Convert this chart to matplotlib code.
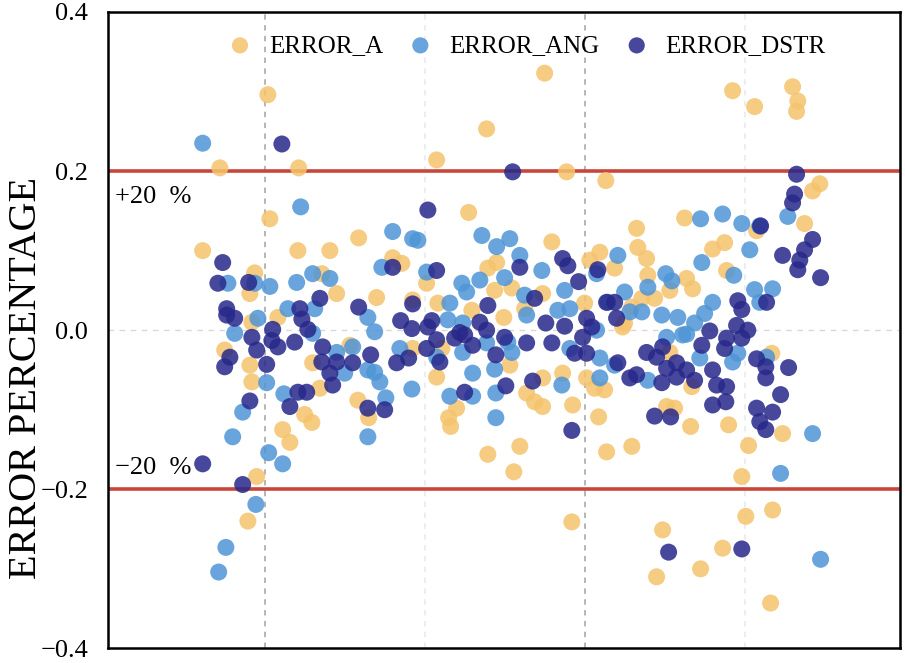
import matplotlib
matplotlib.use("Agg")
import matplotlib.pyplot as plt

# ERROR_A (orange)
a_x = [24.5, 28.8, 40.8, 48.5, 41.3, 48.3, 56.3, 63.5, 37.5, 36.3, 58.0, 54.3, 36.8, 43.3,
       30.0, 36.3, 36.8, 44.5, 46.3, 38.0, 35.8, 50.0, 51.8, 53.8, 52.0, 63.3, 61.3,
       110.0, 95.5, 83.0, 91.0, 72.0, 74.3, 80.5, 68.0, 77.0, 83.3, 98.0, 95.8, 101.8,
       97.5, 91.8, 99.8, 105.0, 83.0, 88.0, 86.0, 86.5, 95.8, 103.8, 102.3, 101.3, 105.5,
       107.5, 66.0, 84.3, 77.0, 115.5, 125.3, 145.0, 133.0, 111.8, 133.3, 135.5, 123.8,
       121.3, 127.5, 135.8, 141.3, 145.5, 109.5, 120.0, 134.3, 137.5, 131.8, 130.0,
       109.5, 114.5, 109.5, 117.0, 120.5, 122.5, 125.0, 123.5, 125.5, 131.8, 116.8,
       139.5, 138.0, 140.5, 142.5, 146.5, 141.3, 129.5, 157.0, 162.5, 172.0, 173.3,
       173.0, 178.8, 177.0, 175.0, 152.0, 155.0, 163.0, 155.5, 147.0, 166.8, 156.0,
       169.5, 161.0, 159.3, 167.0, 160.3, 154.5, 149.0, 166.5, 146.8]
a_y = [0.100, 0.204, 0.296, 0.204, 0.140, 0.100, 0.100, 0.116, 0.072, 0.046, 0.046, 0.071,
       0.010, 0.016, -0.025, -0.044, -0.065, -0.125, -0.141, -0.184, -0.240, -0.106,
       -0.116, -0.073, -0.041, -0.088, -0.019, 0.323, 0.253, 0.214, 0.148, 0.091, 0.084,
       0.059, 0.041, 0.038, 0.034, 0.085, 0.078, 0.053, 0.050, 0.025, 0.016, 0.027,
       -0.059, -0.098, -0.110, -0.121, -0.156, -0.146, -0.178, -0.044, -0.079, -0.090,
       -0.110, -0.023, -0.023, 0.199, 0.188, 0.141, 0.128, 0.111, 0.104, 0.090, 0.098,
       0.088, 0.078, 0.069, 0.050, 0.065, 0.046, 0.034, 0.040, 0.040, 0.029, 0.009,
       -0.060, -0.054, -0.096, -0.094, -0.060, -0.073, -0.075, -0.109, -0.153, -0.146,
       -0.241, -0.251, -0.310, -0.096, -0.098, -0.121, -0.028, 0.004, 0.301, 0.281,
       0.306, 0.288, 0.275, 0.184, 0.175, 0.134, 0.102, 0.110, 0.125, 0.075, 0.052,
       -0.029, -0.119, -0.130, -0.145, -0.184, -0.226, -0.234, -0.274, -0.300, -0.343,
       -0.071]

# ERROR_ANG (light blue)
g_x = [24.5, 49.0, 52.0, 56.3, 48.0, 41.3, 30.8, 37.5, 45.8, 52.5, 38.3, 32.5, 65.8,
       40.5, 44.8, 34.5, 32.0, 41.0, 44.5, 37.8, 30.3, 28.5, 58.0, 60.0, 62.0, 65.8,
       65.8, 52.0, 72.0, 77.0, 78.3, 94.3, 101.3, 98.0, 103.8, 109.3, 69.3, 80.5, 100.0,
       93.8, 89.3, 90.5, 86.3, 105.0, 105.5, 67.5, 85.8, 89.5, 73.8, 67.5, 68.8, 70.3,
       76.8, 83.0, 89.5, 92.0, 86.3, 92.0, 97.8, 97.8, 97.5, 101.8, 100.8, 95.5, 128.3,
       123.0, 140.3, 141.8, 135.8, 115.0, 130.0, 125.8, 113.3, 116.3, 131.3, 134.3,
       139.3, 143.3, 123.0, 140.5, 114.3, 123.8, 123.8, 127.5, 116.3, 135.8, 144.5,
       154.5, 149.0, 159.3, 163.8, 170.8, 161.3, 149.3, 157.3, 162.5, 167.0, 163.8,
       152.0, 150.0, 147.5, 145.5, 148.8, 157.0, 158.3, 165.5, 177.0, 169.0, 179.0]
g_y = [0.235, 0.155, 0.071, 0.065, 0.060, 0.055, 0.059, 0.059, 0.027, 0.027, 0.015,
       -0.004, 0.016, -0.066, -0.080, -0.103, -0.134, -0.154, -0.168, -0.219, -0.273,
       -0.304, -0.028, -0.054, -0.021, -0.134, -0.050, -0.004, 0.124, 0.115, 0.113,
       0.119, 0.115, 0.105, 0.094, 0.075, 0.079, 0.073, 0.066, 0.063, 0.059, 0.048,
       0.034, 0.044, 0.019, -0.002, 0.013, 0.009, -0.023, -0.053, -0.065, -0.085,
       -0.074, -0.034, -0.028, -0.054, -0.083, -0.083, -0.079, -0.110, -0.049, -0.028,
       -0.015, -0.016, 0.094, 0.071, 0.071, 0.062, 0.054, 0.050, 0.048, 0.035, 0.025,
       0.027, 0.023, 0.023, 0.019, 0.016, 0.000, -0.009, -0.069, -0.060, -0.035, -0.044,
       -0.023, -0.063, -0.006, 0.146, 0.140, 0.134, 0.131, 0.143, 0.101, 0.085, 0.069,
       0.051, 0.052, 0.035, 0.035, 0.021, 0.009, -0.005, -0.035, -0.040, -0.029, -0.034,
       -0.130, -0.180, -0.288]

# ERROR_DSTR (dark blue)
d_x = [44.3, 29.5, 28.3, 36.0, 53.8, 63.5, 30.5, 30.5, 32.5, 48.8, 49.3, 50.8, 42.0,
       36.8, 41.8, 43.3, 38.0, 47.5, 31.3, 30.0, 40.5, 36.3, 46.3, 48.3, 50.5, 24.5,
       34.5, 54.5, 54.3, 56.3, 58.0, 62.0, 57.0, 65.8, 80.8, 102.0, 72.0, 83.0, 103.8,
       107.5, 77.0, 95.8, 74.0, 76.8, 80.8, 81.8, 93.8, 88.8, 95.5, 100.0, 83.0, 87.5,
       90.0, 92.0, 105.5, 80.5, 73.0, 76.0, 83.8, 66.5, 97.8, 90.0, 70.0, 100.3, 107.0,
       114.5, 115.8, 123.3, 118.5, 125.5, 127.5, 128.0, 120.5, 121.8, 110.3, 115.0,
       119.5, 111.8, 117.5, 120.5, 128.3, 116.8, 131.3, 133.0, 135.5, 138.0, 139.5,
       140.5, 143.0, 145.5, 143.0, 139.3, 137.5, 141.5, 141.0, 173.0, 172.5, 172.0,
       164.0, 177.0, 175.0, 169.5, 173.8, 173.3, 179.0, 158.3, 159.3, 165.5, 151.3,
       158.0, 160.8, 155.5, 159.3, 149.3, 155.0, 163.0, 165.3, 165.3, 171.0, 147.5,
       152.0, 153.0, 155.5, 152.0, 155.3, 163.0, 167.0, 169.0, 163.8, 165.3, 159.3]
d_y = [0.234, 0.085, 0.059, 0.060, 0.040, 0.029, 0.027, 0.019, 0.015, 0.027, 0.014,
       0.001, 0.001, -0.009, -0.013, -0.021, -0.025, -0.015, -0.034, -0.046, -0.043,
       -0.089, -0.096, -0.078, -0.078, -0.168, -0.194, -0.021, -0.040, -0.054, -0.040,
       -0.041, -0.069, -0.098, 0.151, 0.199, 0.079, 0.075, 0.079, 0.040, 0.033, 0.031,
       0.012, 0.002, 0.004, 0.012, 0.010, -0.003, 0.000, -0.009, -0.012, -0.010, -0.006,
       -0.019, -0.016, -0.023, -0.041, -0.035, -0.040, -0.031, -0.031, -0.078, -0.100,
       -0.070, -0.064, 0.090, 0.081, 0.076, 0.061, 0.035, 0.035, 0.015, 0.015, 0.004,
       0.009, 0.005, -0.009, -0.016, -0.029, -0.029, -0.041, -0.126, -0.060, -0.056,
       -0.028, -0.034, -0.021, -0.048, -0.041, -0.050, -0.059, -0.066, -0.108, -0.109,
       -0.279, 0.196, 0.171, 0.160, 0.131, 0.114, 0.101, 0.094, 0.088, 0.076, 0.066,
       0.037, 0.026, 0.035, -0.001, 0.006, 0.000, -0.010, -0.010, -0.019, -0.023,
       -0.036, -0.046, -0.060, -0.047, -0.063, -0.050, -0.069, -0.071, -0.094, -0.090,
       -0.098, -0.103, -0.081, -0.115, -0.125, -0.275]

series = ['ERROR_A', 'ERROR_ANG', 'ERROR_DSTR']
limit = 0.2

serif = ['Liberation Serif', 'DejaVu Serif']
plt.rcParams['font.family'] = serif

fig = plt.figure(figsize=(9.05, 6.63), dpi=100)
ax = fig.add_axes([0.119, 0.022, 0.875, 0.960])

# rejilla
for xv, c in [(40, '#b0b0b0'), (120, '#b0b0b0'), (80, '#ececec'), (160, '#ececec')]:
    ax.axvline(xv, color=c, linestyle=(0, (3, 3)), linewidth=1.3, zorder=0)
ax.axhline(0, color='#d8d8d8', linestyle=(0, (4, 4)), linewidth=1.0, zorder=0)

# limites +-20 %
ax.axhline(limit, color='#c8463c', linewidth=2.6, zorder=1)
ax.axhline(-limit, color='#c8463c', linewidth=2.6, zorder=1)

ax.scatter(a_x, a_y, s=150, color='#f5c36c', alpha=0.85, edgecolors='none', label=series[0], zorder=2)
ax.scatter(g_x, g_y, s=150, color='#4f95d6', alpha=0.85, edgecolors='none', label=series[1], zorder=3)
ax.scatter(d_x, d_y, s=150, color='#27288a', alpha=0.85, edgecolors='none', label=series[2], zorder=4)

ax.text(2.5, 0.168, '+20  %', fontsize=19, va='center', ha='left')
ax.text(2.5, -0.173, '\u221220  %', fontsize=19, va='center', ha='left')

ax.set_xlim(0.75, 198.75)
ax.set_ylim(-0.4, 0.4)
ax.set_xticks([])
ax.set_yticks([-0.4, -0.2, 0.0, 0.2, 0.4])
ax.set_yticklabels(['\u22120.4', '\u22120.2', '0.0', '0.2', '0.4'], fontsize=19)
ax.tick_params(axis='y', length=0, pad=14)
ax.set_ylabel('ERROR PERCENTAGE', fontsize=29)
ax.yaxis.set_label_coords(-0.079, 0.425)

for sp in ax.spines.values():
    sp.set_linewidth(1.8)
    sp.set_color('black')

ax.legend(loc='upper center', bbox_to_anchor=(0.529, 1.0), ncol=3, frameon=False,
          fontsize=18, handlelength=1.0, handletextpad=0.65, columnspacing=1.0,
          markerscale=0.95)

fig.savefig('out.png', dpi=100)
